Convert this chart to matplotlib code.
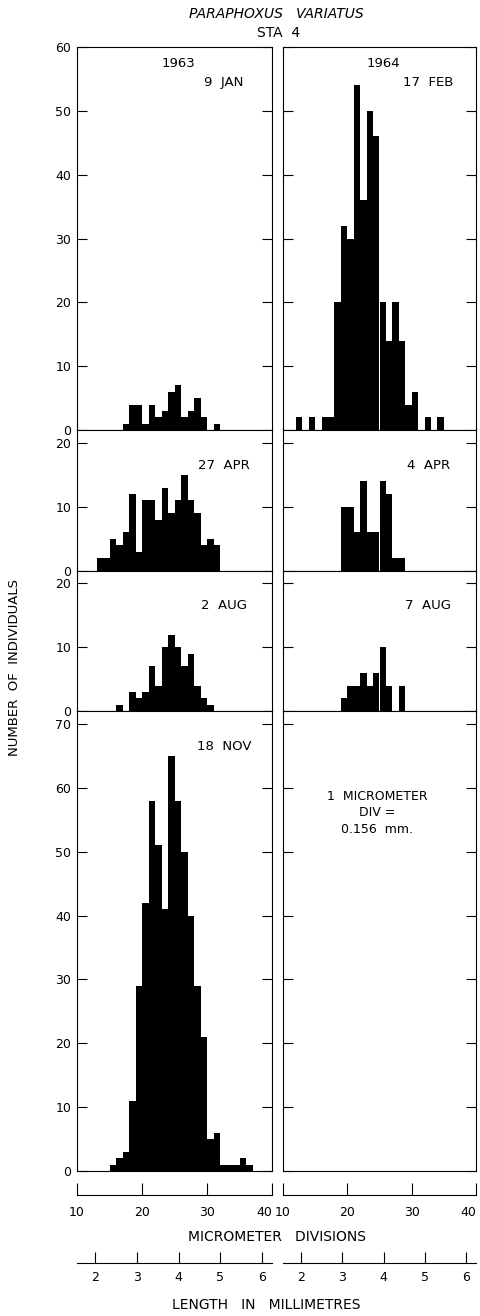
import numpy as np
import matplotlib
matplotlib.use("Agg")
import matplotlib.pyplot as plt

# counts per micrometer division (left edge of each bar)
jan63_div = list(range(17, 32))
jan63_n = [1, 4, 4, 1, 4, 2, 3, 6, 7, 2, 3, 5, 2, 0, 1]

feb64_div = list(range(12, 35))
feb64_n = [2, 0, 2, 0, 2, 2, 20, 32, 30, 54, 36, 50, 46, 20, 14, 20, 14, 4, 6, 0, 2, 0, 2]

apr63_div = list(range(13, 32))
apr63_n = [2, 2, 5, 4, 6, 12, 3, 11, 11, 8, 13, 9, 11, 15, 11, 9, 4, 5, 4]

apr64_div = list(range(19, 29))
apr64_n = [10, 10, 6, 14, 6, 6, 14, 12, 2, 2]

aug63_div = list(range(16, 31))
aug63_n = [1, 0, 3, 2, 3, 7, 4, 10, 12, 10, 7, 9, 4, 2, 1]

aug64_div = list(range(19, 29))
aug64_n = [2, 4, 4, 6, 4, 6, 10, 4, 0, 4]

nov63_div = list(range(15, 37))
nov63_n = [1, 2, 3, 11, 29, 42, 58, 51, 41, 65, 58, 50, 40, 29, 21, 5, 6, 1, 1, 1, 2, 1]

row_ymax = [60, 22, 22, 72]
row_ticks = [[0, 10, 20, 30, 40, 50, 60], [0, 10, 20], [0, 10, 20], [0, 10, 20, 30, 40, 50, 60, 70]]

mm_per_div = 0.156
div_ticks = [10, 20, 30, 40]
mm_ticks = [2, 3, 4, 5, 6]

W, H = 481, 1316
fig = plt.figure(figsize=(W / 100, H / 100), dpi=100)
plt.rcParams['font.family'] = 'DejaVu Sans'


def px_axes(x0, y0, x1, y1):
    return fig.add_axes([x0 / W, 1 - y1 / H, (x1 - x0) / W, (y1 - y0) / H])


cols = [(77, 272), (283, 476)]
top, bottom = 47, 1171
scale = (bottom - top) / sum(row_ymax)
edges = [top]
for m in row_ymax:
    edges.append(edges[-1] + m * scale)

panels = [
    [(jan63_div, jan63_n, ["1963", "9  JAN"]), (feb64_div, feb64_n, ["1964", "17  FEB"])],
    [(apr63_div, apr63_n, [None, "27  APR"]), (apr64_div, apr64_n, [None, "4  APR"])],
    [(aug63_div, aug63_n, [None, "2  AUG"]), (aug64_div, aug64_n, [None, "7  AUG"])],
    [(nov63_div, nov63_n, [None, "18  NOV"]), None],
]

for r in range(4):
    for c in range(2):
        ax = px_axes(cols[c][0], edges[r], cols[c][1], edges[r + 1])
        ax.set_xlim(10, 40)
        ax.set_ylim(0, row_ymax[r])
        for s in ax.spines.values():
            s.set_linewidth(0.8)
        ax.set_xticks([])
        ax.set_yticks(row_ticks[r])
        ax.tick_params(axis='y', direction='in', left=True, right=True,
                       length=7, width=0.8, labelsize=9, pad=4,
                       labelleft=(c == 0))
        p = panels[r][c]
        if p is not None:
            d, n, lab = p
            ax.bar(d, n, width=1, align='edge', color='black', linewidth=0)
            if lab[0]:
                ax.text(25.6, row_ymax[r] - 2.6, lab[0], ha='center', va='center', fontsize=9.5)
            ax.text(32.6, row_ymax[r] - 5.5, lab[1], ha='center', va='center', fontsize=9.5)
        else:
            ax.text(24.6, 58.7, "1  MICROMETER", ha='center', va='center', fontsize=9)
            ax.text(24.6, 56.1, "DIV =", ha='center', va='center', fontsize=9)
            ax.text(24.6, 53.5, "0.156  mm.", ha='center', va='center', fontsize=9)

# micrometer division scale and millimetre scale under the panels
for c in range(2):
    for kind in ("div", "mm"):
        y_line = 1195 if kind == "div" else 1263
        sa = px_axes(cols[c][0], y_line - 12, cols[c][1], y_line)
        sa.patch.set_visible(False)
        for k in ("top", "left", "right"):
            sa.spines[k].set_visible(False)
        sa.spines["bottom"].set_linewidth(0.8)
        sa.set_yticks([])
        if kind == "div":
            sa.set_xlim(10, 40)
            sa.set_xticks(div_ticks)
            sa.tick_params(axis='x', direction='in', length=8.5, width=0.8,
                           labelsize=9, pad=8)
            sa.get_xticklabels()[-1].set_horizontalalignment('right')
        else:
            sa.set_xlim(10 * mm_per_div, 40 * mm_per_div)
            sa.set_xticks(mm_ticks)
            sa.tick_params(axis='x', direction='in', length=8, width=0.8,
                           labelsize=9, pad=6)

fig.text(276 / W, 1 - 14 / H, "PARAPHOXUS   VARIATUS", ha='center', va='center',
         fontsize=10, style='italic')
fig.text(279 / W, 1 - 33 / H, "STA  4", ha='center', va='center', fontsize=10)
fig.text(15 / W, 1 - 667 / H, "NUMBER  OF  INDIVIDUALS", rotation=90,
         ha='center', va='center', fontsize=9.5)
fig.text(277 / W, 1 - 1237 / H, "MICROMETER   DIVISIONS", ha='center', va='center',
         fontsize=10)
fig.text(266 / W, 1 - 1305 / H, "LENGTH   IN   MILLIMETRES", ha='center', va='center',
         fontsize=10)

fig.savefig("out.png", dpi=100)
